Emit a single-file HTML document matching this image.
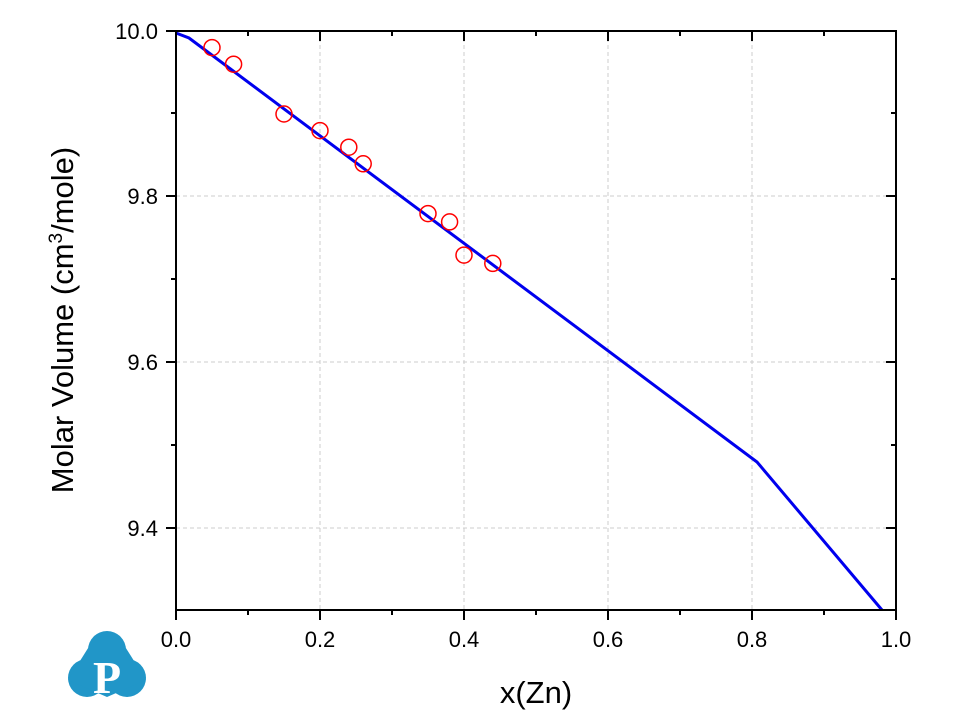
<!DOCTYPE html><html><head><style>body{margin:0;background:#fff}svg{display:block}text{font-family:"Liberation Sans",Arial,sans-serif}</style></head><body>
<svg width="960" height="720" viewBox="0 0 960 720">
<g stroke="#ccc" stroke-dasharray="4,3" stroke-width="1">
<line x1="320" y1="31" x2="320" y2="610"/><line x1="464" y1="31" x2="464" y2="610"/><line x1="608" y1="31" x2="608" y2="610"/><line x1="752" y1="31" x2="752" y2="610"/>
<line x1="176" y1="196" x2="896" y2="196"/><line x1="176" y1="362" x2="896" y2="362"/><line x1="176" y1="528" x2="896" y2="528"/>
</g>
<polyline fill="none" stroke="#0000ee" stroke-width="3" points="176,33 189,38 757,462 882,610"/>
<g fill="none" stroke="#f00" stroke-width="1.5">
<circle cx="212" cy="47.6" r="8"/><circle cx="233.6" cy="64.2" r="8"/><circle cx="284" cy="114" r="8"/><circle cx="320" cy="130.6" r="8"/><circle cx="348.8" cy="147.2" r="8"/><circle cx="363.2" cy="163.8" r="8"/><circle cx="428" cy="213.6" r="8"/><circle cx="449.6" cy="221.9" r="8"/><circle cx="464" cy="255.1" r="8"/><circle cx="492.8" cy="263.4" r="8"/>
</g>
<rect x="176" y="31" width="720" height="579" fill="none" stroke="#000" stroke-width="2"/>
<g stroke="#000" stroke-width="2">
<path d="M176 610v10M248 610v5M320 610v10M392 610v5M464 610v10M536 610v5M608 610v10M680 610v5M752 610v10M824 610v5M896 610v10"/>
<path d="M248 31v5M320 31v10M392 31v5M464 31v10M536 31v5M608 31v10M680 31v5M752 31v10M824 31v5"/>
<path d="M176 31h-10M176 113h-5M176 196h-10M176 279h-5M176 362h-10M176 445h-5M176 528h-10"/>
<path d="M896 113h-5M896 196h-10M896 279h-5M896 362h-10M896 445h-5M896 528h-10"/>
</g>
<g font-size="22" text-anchor="middle">
<text x="176" y="647">0.0</text><text x="320" y="647">0.2</text><text x="464" y="647">0.4</text><text x="608" y="647">0.6</text><text x="752" y="647">0.8</text><text x="896" y="647">1.0</text>
</g>
<g font-size="22" text-anchor="end">
<text x="158" y="39">10.0</text><text x="158" y="204">9.8</text><text x="158" y="370">9.6</text><text x="158" y="536">9.4</text>
</g>
<text x="536" y="703" font-size="31" text-anchor="middle">x(Zn)</text>
<text transform="translate(73,320) rotate(-90)" font-size="31" text-anchor="middle">Molar Volume (cm<tspan font-size="19" dy="-11">3</tspan><tspan dy="11">/mole)</tspan></text>
<g fill="#2196c8">
<circle cx="107" cy="650" r="19"/><circle cx="87" cy="678" r="19"/><circle cx="127" cy="678" r="19"/><path d="M90 645 L124 645 L146 680 L107 697 L68 680Z"/>
</g>
<text x="107" y="693" font-size="46" font-weight="bold" fill="#fff" text-anchor="middle" style="font-family:'Liberation Serif',serif">P</text>
</svg></body></html>
